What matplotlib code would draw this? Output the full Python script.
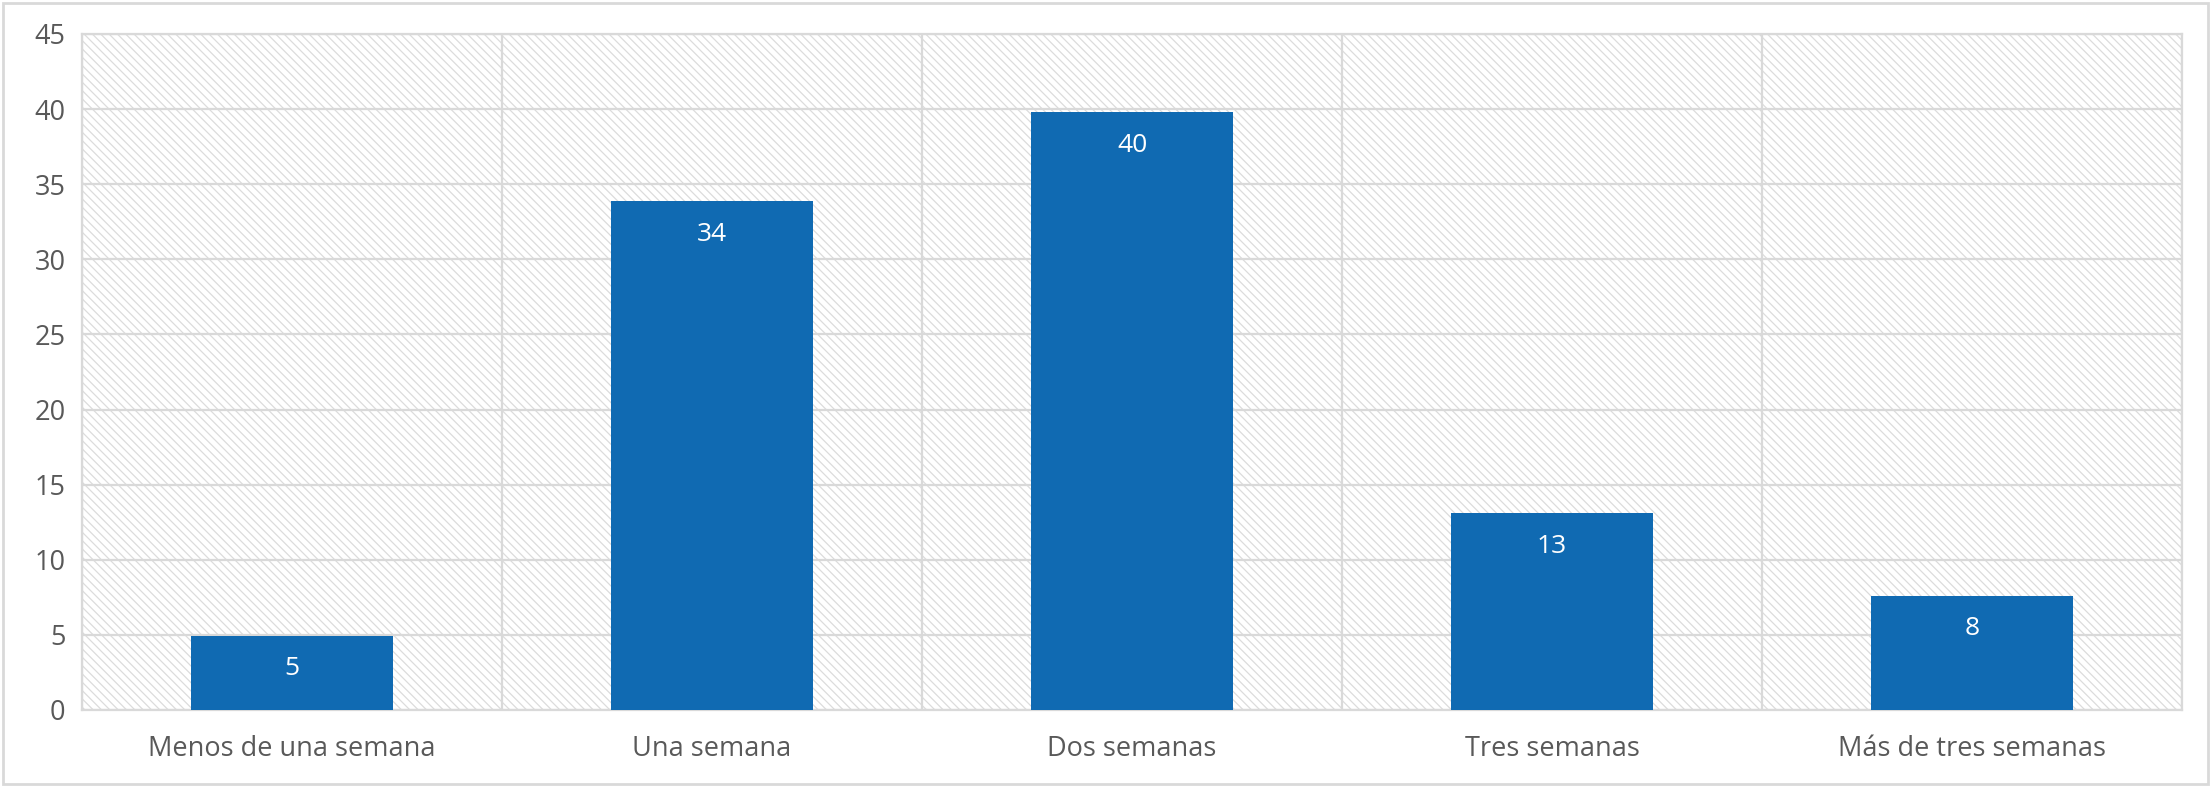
import matplotlib
matplotlib.use("Agg")
import matplotlib.pyplot as plt
from matplotlib.patches import Rectangle
import numpy as np

categories = ["Menos de una semana", "Una semana", "Dos semanas", "Tres semanas", "Más de tres semanas"]
values = [4.95, 33.85, 39.8, 13.1, 7.6]
labels = ["5", "34", "40", "13", "8"]
yticks = [0, 5, 10, 15, 20, 25, 30, 35, 40, 45]

plt.rcParams['font.family'] = ['Open Sans', 'DejaVu Sans']
plt.rcParams['hatch.color'] = '#dcdcdc'
plt.rcParams['hatch.linewidth'] = 0.9

W, H = 2211, 787
fig = plt.figure(figsize=(W/100, H/100), dpi=100)
ax = fig.add_axes([82/W, 1-710/H, 2100/W, 676/H])

x = np.arange(len(categories))
ax.set_xlim(-0.5, len(categories)-0.5)
ax.set_ylim(0, 45)

bg = Rectangle((0, 0), 1, 1, transform=ax.transAxes, facecolor='white',
               edgecolor='#dcdcdc', hatch='\\\\\\\\', linewidth=0, zorder=0)
ax.add_patch(bg)

ax.set_yticks(yticks)
ax.set_xticks(x)
ax.set_xticklabels(categories)
ax.set_xticks(np.arange(len(categories)+1)-0.5, minor=True)
ax.grid(axis='y', which='major', color='#d9d9d9', linewidth=1.6, zorder=1)
ax.grid(axis='x', which='minor', color='#d9d9d9', linewidth=1.6, zorder=1)
ax.set_axisbelow(True)

bars = ax.bar(x, values, width=0.48, color='#106ab2', zorder=3)
for b, lab in zip(bars, labels):
    ax.annotate(lab, (b.get_x()+b.get_width()/2, b.get_height()), xytext=(0, -33),
                textcoords='offset pixels', ha='center', va='center',
                color='white', fontsize=19, zorder=4)

ax.tick_params(axis='both', which='both', length=0, labelsize=19.5, labelcolor='#595959')
ax.tick_params(axis='x', pad=18)
ax.tick_params(axis='y', pad=12)
for s in ax.spines.values():
    s.set_color('#d9d9d9')
    s.set_linewidth(1.6)

fig.patches.append(Rectangle((3/W, 3/H), 1-6/W, 1-6/H, transform=fig.transFigure,
                             fill=False, edgecolor='#d9d9d9', linewidth=2))

fig.savefig('out.png', dpi=100)
